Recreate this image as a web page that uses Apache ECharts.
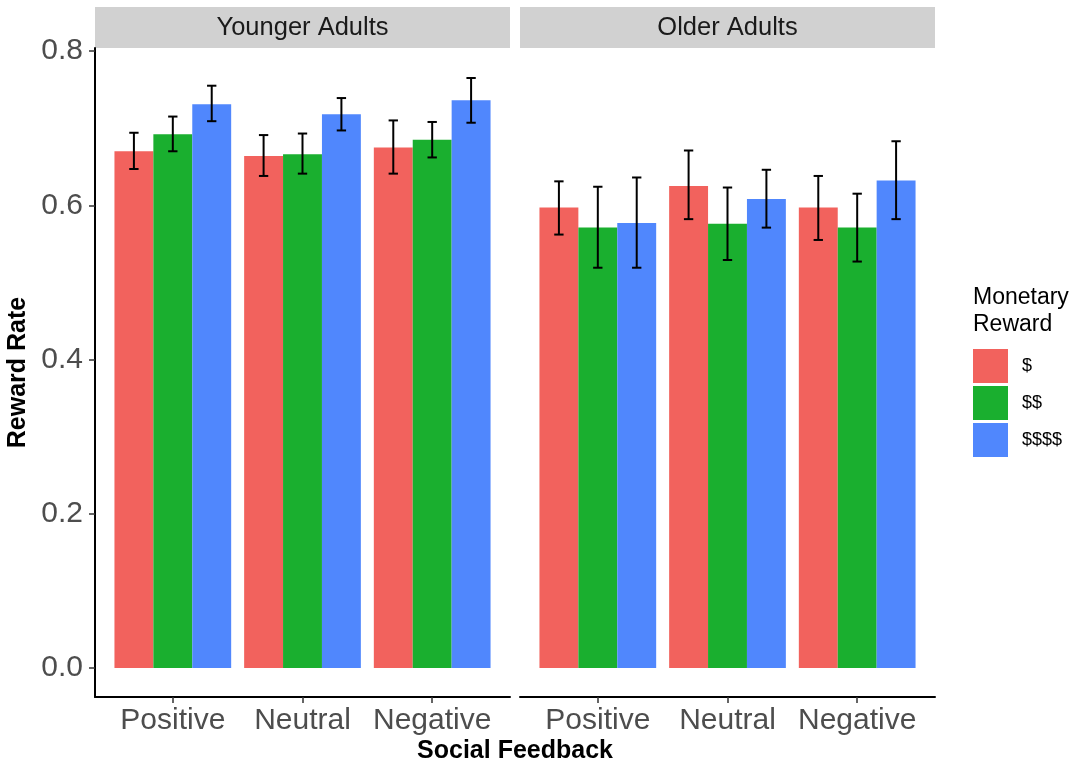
<!DOCTYPE html>
<html><head><meta charset="utf-8">
<script src="https://cdn.jsdelivr.net/npm/echarts@6/dist/echarts.min.js"></script>
<style>html,body{margin:0;padding:0;background:#fff}#c{width:1078px;height:767px}</style>
</head><body><div id="c"></div>
<script>
const categories = ['Positive','Neutral','Negative'];
const facets = ['Younger Adults','Older Adults'];
const rewards = ['$','$$','$$$$'];
const yTicks = [0,0.2,0.4,0.6,0.8];
// rows: reward level ($, $$, $$$$); columns: categories (Positive, Neutral, Negative)
const youngerMean  = [[0.670,0.664,0.675],[0.692,0.666,0.685],[0.731,0.718,0.736]];
const youngerLower = [[0.647,0.638,0.641],[0.670,0.641,0.662],[0.709,0.697,0.707]];
const youngerUpper = [[0.694,0.691,0.710],[0.715,0.693,0.708],[0.755,0.739,0.765]];
const olderMean  = [[0.597,0.625,0.597],[0.571,0.576,0.571],[0.577,0.608,0.632]];
const olderLower = [[0.562,0.582,0.555],[0.519,0.529,0.527],[0.519,0.571,0.582]];
const olderUpper = [[0.631,0.671,0.638],[0.624,0.623,0.615],[0.636,0.646,0.683]];

const colors = ['#F2625D','#1AAF2F','#5087FD'];
const FONT = '"Liberation Sans", Arial, sans-serif';
const facetData = [
  {mean: youngerMean, lower: youngerLower, upper: youngerUpper},
  {mean: olderMean, lower: olderLower, upper: olderUpper}
];

function makeRender(r){
  return function(params, api){
    const x = api.value(0) + (r-1)*0.3;
    const m = api.value(1), lo = api.value(2), hi = api.value(3);
    const p0 = api.coord([x-0.15, m]);
    const p1 = api.coord([x+0.15, 0]);
    const top = api.coord([x, hi]);
    const bot = api.coord([x, lo]);
    const wl = api.coord([x-0.036, lo])[0];
    const wr = api.coord([x+0.036, lo])[0];
    const st = {stroke:'#000', lineWidth:2};
    return {type:'group', children:[
      {type:'rect', shape:{x:p0[0], y:p0[1], width:p1[0]-p0[0], height:p1[1]-p0[1]}, style:{fill:colors[r]}},
      {type:'line', shape:{x1:top[0], y1:top[1], x2:bot[0], y2:bot[1]}, style:st},
      {type:'line', shape:{x1:wl, y1:top[1], x2:wr, y2:top[1]}, style:st},
      {type:'line', shape:{x1:wl, y1:bot[1], x2:wr, y2:bot[1]}, style:st}
    ]};
  };
}

const series = [];
facetData.forEach((fd, f) => {
  rewards.forEach((rw, r) => {
    series.push({
      type:'custom', name: rw, xAxisIndex: f, yAxisIndex: f,
      itemStyle:{color: colors[r]},
      renderItem: makeRender(r),
      encode:{x:0, y:1},
      clip:false,
      data: categories.map((c,i) => [i+1, fd.mean[r][i], fd.lower[r][i], fd.upper[r][i]])
    });
  });
});

const yMin = -0.0376, yMax = 0.8039;
const gridLeft = [95, 520], gridW = 415, gridTop = 48, gridH = 649;

const xAxes = facets.map((f, i) => ({
  type:'value', gridIndex:i, min:0.4, max:3.6,
  axisLine:{show:true, onZero:false, lineStyle:{color:'#000', width:2}},
  axisTick:{show:true, customValues:[1,2,3], length:6, lineStyle:{color:'#333', width:1.5}},
  axisLabel:{show:true, customValues:[1,2,3], formatter: v => categories[Math.round(v)-1], color:'#4D4D4D', fontSize:30, fontFamily:FONT, margin:9},
  splitLine:{show:false}
}));
const yAxes = facets.map((f, i) => ({
  type:'value', gridIndex:i, min:yMin, max:yMax, show: i === 0,
  name: i === 0 ? 'Reward Rate' : '', nameLocation:'middle', nameGap:64, nameRotate:90,
  nameTextStyle:{fontSize:25, fontWeight:'bold', color:'#000', fontFamily:FONT},
  axisLine:{show:true, onZero:false, lineStyle:{color:'#000', width:2}},
  axisTick:{show:true, customValues:yTicks, length:6, lineStyle:{color:'#333', width:1.5}},
  axisLabel:{show:true, customValues:yTicks, formatter: v => v.toFixed(1), color:'#4D4D4D', fontSize:30, fontFamily:FONT, margin:12},
  splitLine:{show:false}
}));

const graphics = [];
facets.forEach((f, i) => {
  graphics.push({type:'rect', left:gridLeft[i], top:7, shape:{width:gridW, height:41}, style:{fill:'#D1D1D1'}, silent:true});
  graphics.push({type:'text', x:gridLeft[i]+gridW/2, y:28, style:{text:f, fill:'#1A1A1A', font:'25.5px ' + FONT, textAlign:'center', textVerticalAlign:'middle'}, silent:true});
});
graphics.push({type:'text', x:515, y:751, style:{text:'Social Feedback', fill:'#000', font:'bold 25px ' + FONT, textAlign:'center', textVerticalAlign:'middle'}});
graphics.push({type:'text', x:973, y:284, style:{text:'Monetary\nReward', fill:'#000', font:'23px ' + FONT, lineHeight:27, textAlign:'left', textVerticalAlign:'top'}});

const chart = echarts.init(document.getElementById('c'), null, {renderer:'canvas'});
chart.setOption({
  animation:false,
  backgroundColor:'#fff',
  grid: facets.map((f,i) => ({left:gridLeft[i], top:gridTop, width:gridW, height:gridH})),
  xAxis: xAxes,
  yAxis: yAxes,
  legend:{data:rewards, orient:'vertical', left:968, top:344, icon:'rect', itemWidth:35, itemHeight:34, itemGap:3,
    textStyle:{fontSize:18, color:'#000', fontFamily:FONT, padding:[0,0,0,9]}},
  graphic: graphics,
  series: series
});
</script></body></html>
